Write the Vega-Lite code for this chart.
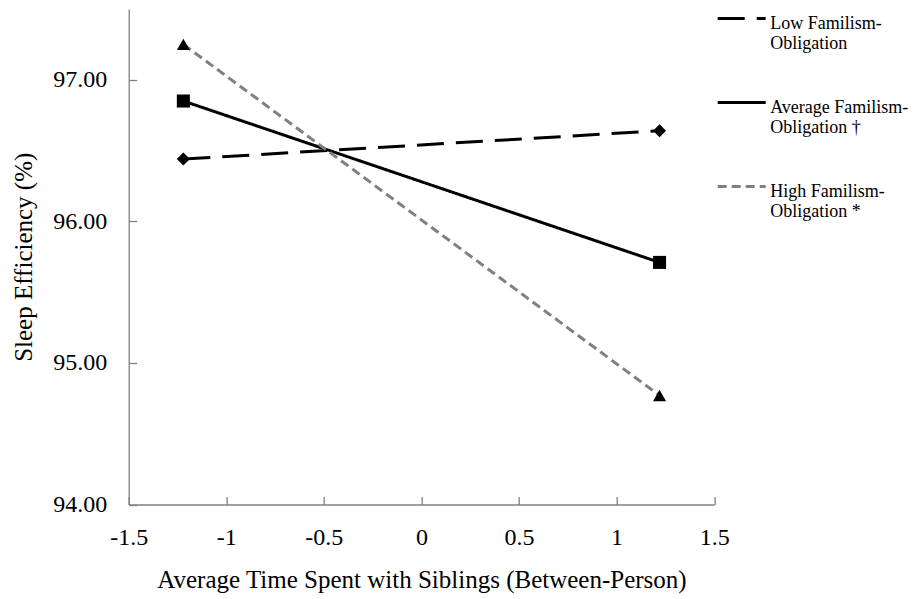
{
  "$schema": "https://vega.github.io/schema/vega-lite/v6.json",
  "width": 585.5,
  "height": 495.5,
  "autosize": "none",
  "padding": {"left": 128.7, "top": 9, "right": 200.8, "bottom": 94.5},
  "background": "white",
  "config": {
    "view": {"stroke": null},
    "font": "Liberation Serif",
    "axis": {
      "grid": false,
      "domainColor": "#808080",
      "domainWidth": 1.3,
      "tickColor": "#808080",
      "tickWidth": 1.3,
      "labelColor": "#000000",
      "titleColor": "#000000",
      "labelFont": "Liberation Serif",
      "titleFont": "Liberation Serif",
      "titleFontWeight": "normal",
      "labelFontSize": 24,
      "titleFontSize": 25
    },
    "legend": {
      "labelFont": "Liberation Serif",
      "labelFontSize": 18,
      "labelColor": "#000000"
    }
  },
  "data": {
    "values": [
      {"grp": "Low Familism-Obligation", "x": -1.22, "y": 96.44},
      {"grp": "Low Familism-Obligation", "x": 1.22, "y": 96.64},
      {"grp": "Average Familism-Obligation †", "x": -1.22, "y": 96.85},
      {"grp": "Average Familism-Obligation †", "x": 1.22, "y": 95.71},
      {"grp": "High Familism-Obligation *", "x": -1.22, "y": 97.25},
      {"grp": "High Familism-Obligation *", "x": 1.22, "y": 94.77}
    ]
  },
  "encoding": {
    "x": {
      "field": "x",
      "type": "quantitative",
      "scale": {"domain": [-1.5, 1.5], "nice": false, "zero": false},
      "axis": {
        "title": "Average Time Spent with Siblings (Between-Person)",
        "values": [-1.5, -1, -0.5, 0, 0.5, 1, 1.5],
        "labelExpr": "'' + datum.value",
        "tickSize": -8,
        "labelPadding": 29,
        "titlePadding": 18,
        "labelFlush": false,
        "labelOverlap": false
      }
    },
    "y": {
      "field": "y",
      "type": "quantitative",
      "scale": {"domain": [94, 97.5], "nice": false, "zero": false},
      "axis": {
        "title": "Sleep Efficiency (%)",
        "values": [94, 95, 96, 97],
        "format": ".2f",
        "tickSize": -8,
        "labelPadding": 30,
        "titlePadding": 16,
        "labelFlush": false,
        "labelOverlap": false
      }
    }
  },
  "layer": [
    {
      "mark": {"type": "line", "strokeWidth": 3},
      "encoding": {
        "color": {
          "field": "grp",
          "type": "nominal",
          "scale": {
            "domain": ["Low Familism-Obligation", "Average Familism-Obligation †", "High Familism-Obligation *"],
            "range": ["#000000", "#000000", "#808080"]
          },
          "legend": {
            "title": null,
            "orient": "none",
            "legendX": 587.5,
            "legendY": -16,
            "padding": 0,
            "symbolType": "stroke",
            "symbolSize": 2304,
            "symbolStrokeWidth": 3,
            "labelOffset": 3,
            "rowPadding": 24,
            "labelBaseline": "top",
            "labelLimit": 300,
            "labelExpr": "[split(datum.label, '-')[0] + '-', split(datum.label, '-')[1]]",
            "encode": {
              "labels": {"update": {"dy": {"value": -4}}}
            }
          }
        },
        "strokeDash": {
          "field": "grp",
          "type": "nominal",
          "scale": {
            "domain": ["Low Familism-Obligation", "Average Familism-Obligation †", "High Familism-Obligation *"],
            "range": [[27, 12], [1, 0], [9, 5]]
          },
          "legend": {
            "title": null,
            "orient": "none",
            "legendX": 587.5,
            "legendY": -16,
            "padding": 0,
            "symbolType": "stroke",
            "symbolSize": 2304,
            "symbolStrokeWidth": 3,
            "labelOffset": 3,
            "rowPadding": 24,
            "labelBaseline": "top",
            "labelLimit": 300,
            "labelExpr": "[split(datum.label, '-')[0] + '-', split(datum.label, '-')[1]]",
            "encode": {
              "labels": {"update": {"dy": {"value": -4}}}
            }
          }
        }
      }
    },
    {
      "mark": {"type": "point", "filled": true, "opacity": 1, "color": "#000000", "size": 170},
      "encoding": {
        "shape": {
          "field": "grp",
          "type": "nominal",
          "sort": ["Low Familism-Obligation", "Average Familism-Obligation †", "High Familism-Obligation *"],
          "scale": {
            "range": ["diamond", "square", "triangle-up"]
          },
          "legend": null
        }
      }
    }
  ]
}
